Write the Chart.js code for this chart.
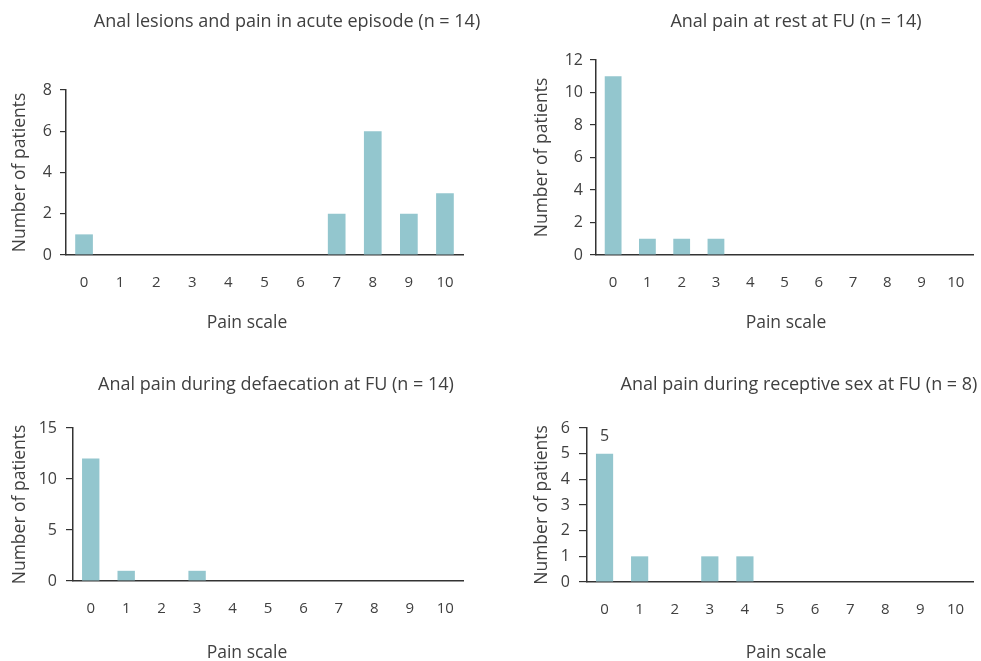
<!DOCTYPE html>
<html>
<head>
<meta charset="utf-8">
<script src="https://cdn.jsdelivr.net/npm/chart.js@4"></script>
<style>
  body { margin: 0; background: #fff; }
  #wrap { position: relative; width: 981px; height: 661px; overflow: hidden; }
  canvas { position: absolute; }
</style>
</head>
<body>
<div id="wrap">
  <canvas id="acute" width="490" height="340" style="left:0;top:0"></canvas>
  <canvas id="rest" width="491" height="340" style="left:490px;top:0"></canvas>
  <canvas id="defaecation" width="490" height="321" style="left:0;top:340px"></canvas>
  <canvas id="sex" width="491" height="321" style="left:490px;top:340px"></canvas>
</div>
<script>
// pain scale 0 - 10
const painScale = ['0', '1', '2', '3', '4', '5', '6', '7', '8', '9', '10'];

// number of patients per pain score
const acuteCounts = [1, 0, 0, 0, 0, 0, 0, 2, 6, 2, 3];
const restCounts = [11, 1, 1, 1, 0, 0, 0, 0, 0, 0, 0];
const defaecationCounts = [12, 1, 0, 1, 0, 0, 0, 0, 0, 0, 0];
const sexCounts = [5, 1, 0, 1, 1, 0, 0, 0, 0, 0, 0];

const titles = [
    'Anal lesions and pain in acute episode (n = 14)',
    'Anal pain at rest at FU (n = 14)',
    'Anal pain during defaecation at FU (n = 14)',
    'Anal pain during receptive sex at FU (n = 8)',
];
const yMax = [8, 12, 15, 6];
const yStep = [2, 2, 5, 1];
const sexLabelled = [0]; // only the first bar carries its value

const barColor = '#93c6ce';
const inkColor = '#404040';
const axisColor = '#333333';
const fontFamily = '"Open Sans", "Noto Sans", sans-serif';

// titles and the x caption sit centred on the panel, not on the plot
const panelText = {
    id: 'panelText',
    afterDraw(chart, args, opts) {
        const ctx = chart.ctx;
        ctx.save();
        ctx.fillStyle = inkColor;
        ctx.textAlign = 'center';
        ctx.textBaseline = 'middle';
        ctx.font = '18px ' + fontFamily;
        ctx.fillText(opts.title, opts.titleX, opts.titleY);
        ctx.font = '17.5px ' + fontFamily;
        ctx.fillText('Pain scale', opts.captionX, opts.captionY);
        const meta = chart.getDatasetMeta(0);
        ctx.font = '16px ' + fontFamily;
        (opts.labelled || []).forEach(i => {
            const bar = meta.data[i];
            ctx.fillText(String(chart.data.datasets[0].data[i]), bar.x, bar.y - 17);
        });
        ctx.restore();
    }
};

function createBarChart(id, counts, idx, box) {
    const ctx = document.getElementById(id).getContext('2d');
    return new Chart(ctx, {
        type: 'bar',
        data: {
            labels: painScale,
            datasets: [{
                data: counts,
                backgroundColor: barColor,
                borderWidth: 0,
                barPercentage: 0.49,
                categoryPercentage: 1,
            }],
        },
        options: {
            responsive: false,
            animation: false,
            devicePixelRatio: 1,
            layout: { padding: { left: 0, right: box.right, top: box.top, bottom: 0 } },
            plugins: {
                legend: { display: false },
                tooltip: { enabled: false },
                panelText: {
                    title: titles[idx],
                    titleX: box.titleX,
                    titleY: box.titleY,
                    captionX: box.captionX,
                    captionY: box.captionY,
                    labelled: box.labelled,
                },
            },
            scales: {
                x: {
                    afterFit: s => { s.height = box.xHeight; },
                    grid: { display: false },
                    border: { display: true, color: axisColor, width: 1.5 },
                    ticks: {
                        color: inkColor,
                        font: { family: fontFamily, size: 15 },
                        padding: 11,
                        maxRotation: 0,
                    },
                },
                y: {
                    min: 0,
                    max: yMax[idx],
                    afterFit: s => { s.width = box.yWidth; },
                    grid: {
                        display: true,
                        drawOnChartArea: false,
                        drawTicks: true,
                        tickLength: box.tick,
                        color: axisColor,
                        lineWidth: 1.2,
                    },
                    border: { display: true, color: axisColor, width: 1.5 },
                    ticks: {
                        stepSize: yStep[idx],
                        color: inkColor,
                        font: { family: fontFamily, size: 16 },
                        padding: box.tickPad,
                    },
                    title: {
                        display: true,
                        text: 'Number of patients',
                        color: inkColor,
                        font: { family: fontFamily, size: 17.5 },
                        padding: { top: box.yTitleX - 10.5, bottom: 0 },
                    },
                },
            },
        },
        plugins: [panelText],
    });
}

createBarChart('acute', acuteCounts, 0, {
    yWidth: 66, right: 27, top: 90, xHeight: 85, tick: 6, tickPad: 8, yTitleX: 20,
    titleX: 287, titleY: 22, captionX: 247, captionY: 323,
});
createBarChart('rest', restCounts, 1, {
    yWidth: 106, right: 8, top: 60, xHeight: 85, tick: 6, tickPad: 7, yTitleX: 52,
    titleX: 306, titleY: 22, captionX: 296, captionY: 323,
});
createBarChart('defaecation', defaecationCounts, 2, {
    yWidth: 73, right: 27, top: 88, xHeight: 80, tick: 7, tickPad: 9, yTitleX: 20,
    titleX: 276, titleY: 45, captionX: 247, captionY: 313,
});
createBarChart('sex', sexCounts, 3, {
    yWidth: 97, right: 8, top: 88, xHeight: 79, tick: 8, tickPad: 9, yTitleX: 52,
    titleX: 309, titleY: 45, captionX: 296, captionY: 313, labelled: sexLabelled,
});
</script>
</body>
</html>
